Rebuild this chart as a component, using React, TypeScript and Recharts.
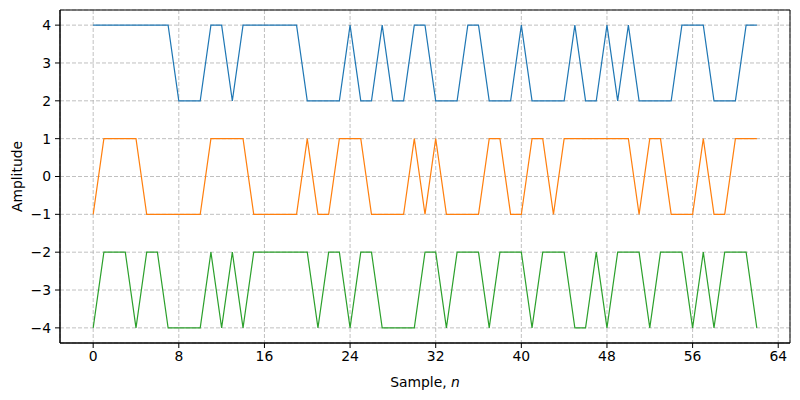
import React from 'react';
import { LineChart, Line, XAxis, YAxis, CartesianGrid, ReferenceArea } from 'recharts';

const seriesA = [4,4,4,4,4,4,4,4,2,2,2,4,4,2,4,4,4,4,4,4,2,2,2,2,4,2,2,4,2,2,4,4,2,2,2,4,4,2,2,2,4,2,2,2,2,4,2,2,4,2,4,2,2,2,2,4,4,4,2,2,2,4,4];
const seriesB = [-1,1,1,1,1,-1,-1,-1,-1,-1,-1,1,1,1,1,-1,-1,-1,-1,-1,1,-1,-1,1,1,1,-1,-1,-1,-1,1,-1,1,-1,-1,-1,-1,1,1,-1,-1,1,1,-1,1,1,1,1,1,1,1,-1,1,1,-1,-1,-1,1,-1,-1,1,1,1];
const seriesC = [-4,-2,-2,-2,-4,-2,-2,-4,-4,-4,-4,-2,-4,-2,-4,-2,-2,-2,-2,-2,-2,-4,-2,-2,-4,-2,-2,-4,-4,-4,-4,-2,-2,-4,-2,-2,-2,-4,-2,-2,-2,-4,-2,-2,-2,-4,-4,-2,-4,-2,-2,-2,-4,-2,-2,-2,-4,-2,-4,-2,-2,-2,-4];
const xTicks = [0, 8, 16, 24, 32, 40, 48, 56, 64];
const yTicks = [-4, -3, -2, -1, 0, 1, 2, 3, 4];

const data = seriesA.map((v, i) => ({ n: i, a: v, b: seriesB[i], c: seriesC[i] }));

const fmt = (v: number) => (v < 0 ? '\u2212' + Math.abs(v) : String(v));

const XLabel = (props: any) => {
  const vb = props.viewBox || {};
  return (
    <text x={vb.x + vb.width / 2} y={vb.y + 44} textAnchor="middle" fontSize={13.9} fill="#000">
      Sample, <tspan fontStyle="italic">n</tspan>
    </text>
  );
};

const YLabel = (props: any) => {
  const vb = props.viewBox || {};
  const cx = 17;
  const cy = vb.y + vb.height / 2;
  return (
    <text x={cx} y={cy} textAnchor="middle" dominantBaseline="central" fontSize={13.9} fill="#000" transform={`rotate(-90 ${cx} ${cy})`}>
      Amplitude
    </text>
  );
};

export default function App() {
  return (
    <div style={{ position: 'absolute', left: 0, top: 0, width: 800, height: 400, background: '#fff', fontFamily: 'DejaVu Sans' }}>
      <LineChart width={800} height={400} data={data} margin={{ top: 10, right: 10, left: 0, bottom: 0 }}>
        <CartesianGrid stroke="#b0b0b0" strokeOpacity={0.8} strokeDasharray="4 2" vertical horizontal verticalPoints={undefined} />
        <XAxis
          dataKey="n"
          type="number"
          domain={[-3.1, 65.1]}
          ticks={xTicks}
          allowDataOverflow
          height={57}
          tickSize={5}
          tickMargin={3}
          stroke="#000"
          tick={{ fill: '#000', fontSize: 13.9 }}
          tickLine={{ stroke: '#000' }}
          axisLine={{ stroke: '#000' }}
          label={<XLabel />}
        />
        <YAxis
          type="number"
          domain={[-4.4, 4.4]}
          ticks={yTicks}
          allowDataOverflow
          width={60}
          tickSize={5}
          tickMargin={4}
          tickFormatter={fmt}
          tick={{ fill: '#000', fontSize: 13.9 }}
          tickLine={{ stroke: '#000' }}
          axisLine={{ stroke: '#000' }}
          label={<YLabel />}
        />
        <Line type="linear" dataKey="a" stroke="#1f77b4" strokeWidth={1.2} dot={false} isAnimationActive={false} />
        <Line type="linear" dataKey="b" stroke="#ff7f0e" strokeWidth={1.2} dot={false} isAnimationActive={false} />
        <Line type="linear" dataKey="c" stroke="#2ca02c" strokeWidth={1.2} dot={false} isAnimationActive={false} />
        <ReferenceArea x1={-3.1} x2={65.1} y1={-4.4} y2={4.4} fill="none" stroke="#000" strokeWidth={1} ifOverflow="visible" />
      </LineChart>
    </div>
  );
}
